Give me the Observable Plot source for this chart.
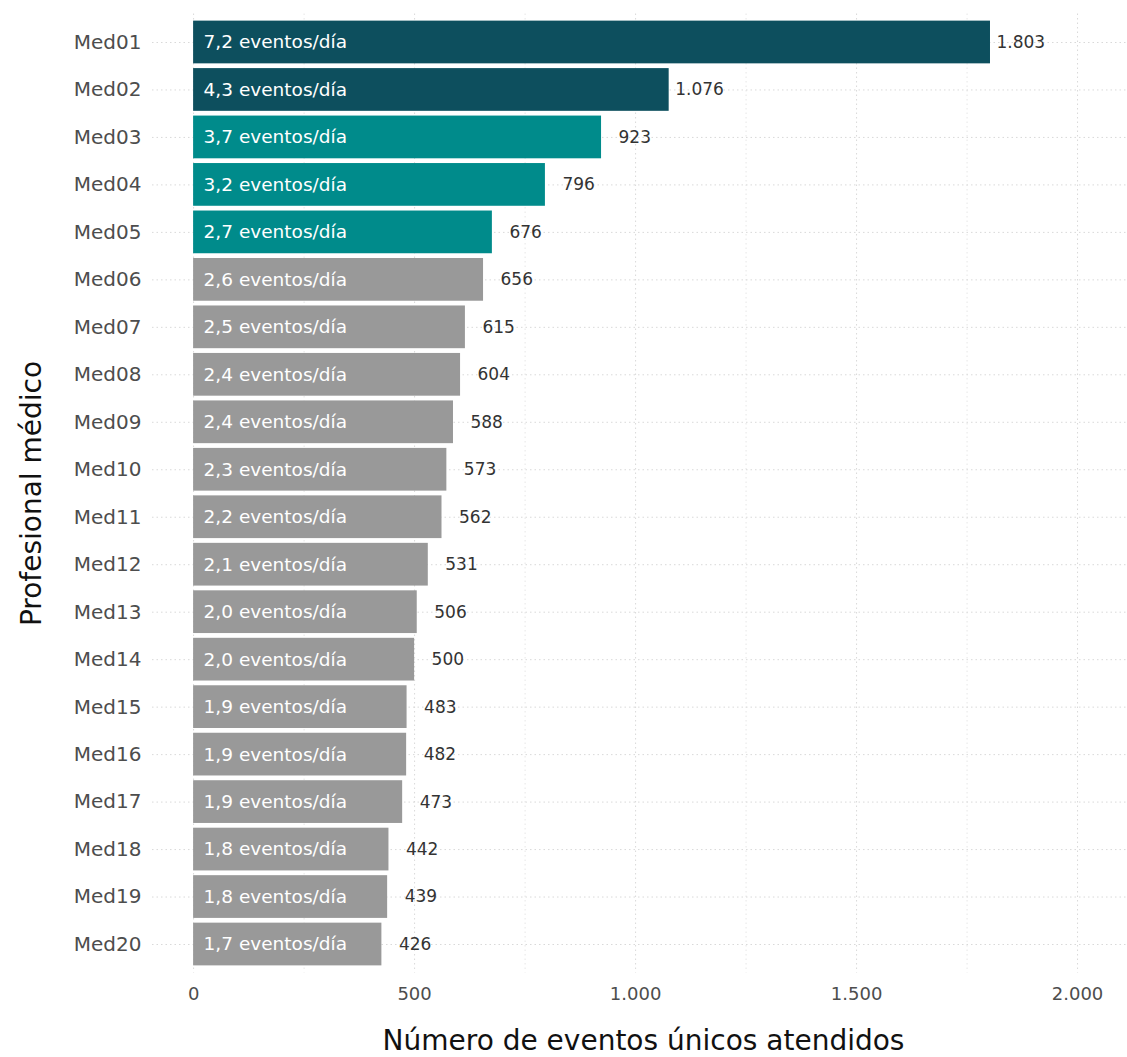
<!DOCTYPE html>
<html>
<head>
<meta charset="utf-8">
<script src="https://cdn.jsdelivr.net/npm/d3@7"></script>
<script src="https://cdn.jsdelivr.net/npm/@observablehq/plot@0.6"></script>
<style>
  html, body { margin: 0; padding: 0; background: #ffffff; }
  #chart svg { display: block; font-family: "DejaVu Sans", sans-serif; }
</style>
</head>
<body>
<div id="chart"></div>
<script>
const medicos = ["Med01","Med02","Med03","Med04","Med05","Med06","Med07","Med08","Med09","Med10",
                 "Med11","Med12","Med13","Med14","Med15","Med16","Med17","Med18","Med19","Med20"];
const eventos = [1803,1076,923,796,676,656,615,604,588,573,562,531,506,500,483,482,473,442,439,426];
const tasaDiaria = ["7,2","4,3","3,7","3,2","2,7","2,6","2,5","2,4","2,4","2,3",
                    "2,2","2,1","2,0","2,0","1,9","1,9","1,9","1,8","1,8","1,7"];
const grupo = ["alto","alto","medio","medio","medio","resto","resto","resto","resto","resto",
               "resto","resto","resto","resto","resto","resto","resto","resto","resto","resto"];
const grupos = ["alto","medio","resto"];
const colores = ["#0d4f5e","#008b8b","#999999"];
const xTicks = [0,500,1000,1500,2000];
const xMinor = [250,750,1250,1750];
const xTitle = "Número de eventos únicos atendidos";
const yTitle = "Profesional médico";

const fmt = d3.formatLocale({decimal: ",", thousands: ".", grouping: [3], currency: ["", ""]}).format(",");
const data = medicos.map((m, i) => ({medico: m, n: eventos[i], tasa: tasaDiaria[i], grupo: grupo[i]}));

const gridStyle = {stroke: "#d9d9d9", strokeDasharray: "1.5,3", strokeWidth: 1};

const chart = Plot.plot({
  width: 1127,
  height: 1057,
  marginLeft: 152,
  marginRight: 0,
  marginTop: 13.5,
  marginBottom: 84.5,
  style: {fontFamily: "DejaVu Sans, sans-serif", background: "#ffffff"},
  x: {domain: [-93, 2113], axis: null},
  y: {domain: medicos, paddingInner: 0.1, paddingOuter: 0.15, round: false, axis: null},
  color: {domain: grupos, range: colores},
  marks: [
    Plot.ruleX(xMinor, {...gridStyle, stroke: "#e6e6e6"}),
    Plot.ruleX(xTicks, gridStyle),
    Plot.gridY({...gridStyle, strokeOpacity: 1}),
    Plot.barX(data, {y: "medico", x1: 0, x2: "n", fill: "grupo"}),
    Plot.text(data, {y: "medico", x: 0, text: d => `${d.tasa} eventos/día`, textAnchor: "start", dx: 10,
      fill: "white", fontSize: 18.5}),
    Plot.text(data.filter(d => d.n >= 1000), {y: "medico", x: "n", text: d => fmt(d.n), textAnchor: "start", dx: 6,
      fill: "#333333", fontSize: 17}),
    Plot.text(data.filter(d => d.n < 1000), {y: "medico", x: "n", text: d => fmt(d.n), textAnchor: "start", dx: 17,
      fill: "#333333", fontSize: 17}),
    Plot.axisY({tickSize: 0, tickPadding: 11, fontSize: 20, color: "#4d4d4d", label: null}),
    Plot.axisX(xTicks, {tickSize: 0, tickPadding: 14, fontSize: 18, color: "#4d4d4d", label: null, tickFormat: fmt}),
    Plot.text([xTitle], {frameAnchor: "bottom", dy: 68, dx: 3.5, textAnchor: "middle", lineAnchor: "middle", fontSize: 28, fill: "#111111"}),
    Plot.text([yTitle], {frameAnchor: "left", dx: -120, rotate: -90, textAnchor: "middle", lineAnchor: "middle", fontSize: 28, fill: "#111111"})
  ]
});
document.getElementById("chart").appendChild(chart);
</script>
</body>
</html>
